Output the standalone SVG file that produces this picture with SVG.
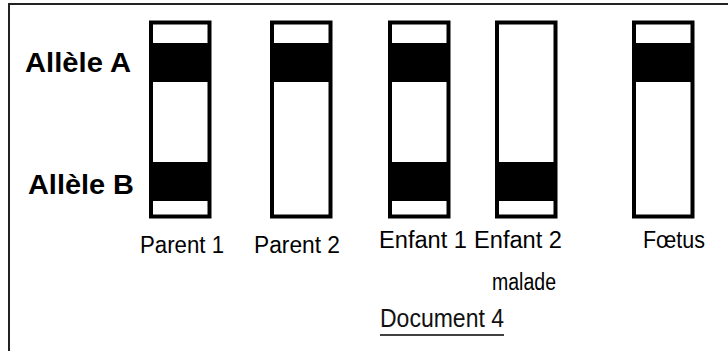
<svg xmlns="http://www.w3.org/2000/svg" width="728" height="351" viewBox="0 0 728 351">
<style>
.col{fill:#fff;stroke:#000;stroke-width:4}
.band{fill:#000}
.al{font-family:"Liberation Sans",Arial,sans-serif;font-weight:bold;font-size:27px;fill:#000}
.lb{font-family:"Liberation Sans",Arial,sans-serif;font-size:23px;fill:#000}
.doc{font-family:"Liberation Sans",Arial,sans-serif;font-size:25px;fill:#111}
</style>
<rect width="728" height="351" fill="#fff"/>
<path d="M9,351 V4 H728" fill="none" stroke="#222" stroke-width="2"/>
<g id="allele-a"><text class="al" x="25" y="72" textLength="106" lengthAdjust="spacingAndGlyphs">Allèle A</text></g>
<g id="allele-b"><text class="al" x="28" y="194" textLength="106" lengthAdjust="spacingAndGlyphs">Allèle B</text></g>
<g id="parent1">
<rect class="col" x="151" y="22.5" width="58.5" height="194"/>
<rect class="band" x="151" y="43" width="58.5" height="39"/>
<rect class="band" x="151" y="162" width="58.5" height="39"/>
<text class="lb" x="140" y="253" textLength="84" lengthAdjust="spacingAndGlyphs">Parent 1</text>
</g>
<g id="parent2">
<rect class="col" x="272" y="22.5" width="58.5" height="194"/>
<rect class="band" x="272" y="43" width="58.5" height="39"/>
<text class="lb" x="254" y="253" textLength="86" lengthAdjust="spacingAndGlyphs">Parent 2</text>
</g>
<g id="enfant1">
<rect class="col" x="390" y="22.5" width="58.5" height="194"/>
<rect class="band" x="390" y="43" width="58.5" height="39"/>
<rect class="band" x="390" y="162" width="58.5" height="39"/>
<text class="lb" x="379" y="248" textLength="88" lengthAdjust="spacingAndGlyphs">Enfant 1</text>
</g>
<g id="enfant2">
<rect class="col" x="497" y="22.5" width="58.5" height="194"/>
<rect class="band" x="497" y="162" width="58.5" height="39"/>
<text class="lb" x="474" y="248" textLength="88" lengthAdjust="spacingAndGlyphs">Enfant 2</text>
<text class="lb" x="492" y="290" textLength="64" lengthAdjust="spacingAndGlyphs">malade</text>
</g>
<g id="foetus">
<rect class="col" x="634" y="22.5" width="58.5" height="194"/>
<rect class="band" x="634" y="43" width="58.5" height="39"/>
<text class="lb" x="643" y="248" textLength="62" lengthAdjust="spacingAndGlyphs">Fœtus</text>
</g>
<g id="title">
<text class="doc" x="380" y="327" textLength="124" lengthAdjust="spacingAndGlyphs">Document 4</text>
<line x1="380" y1="335" x2="504" y2="335" stroke="#000" stroke-width="1.6"/>
</g>
</svg>
